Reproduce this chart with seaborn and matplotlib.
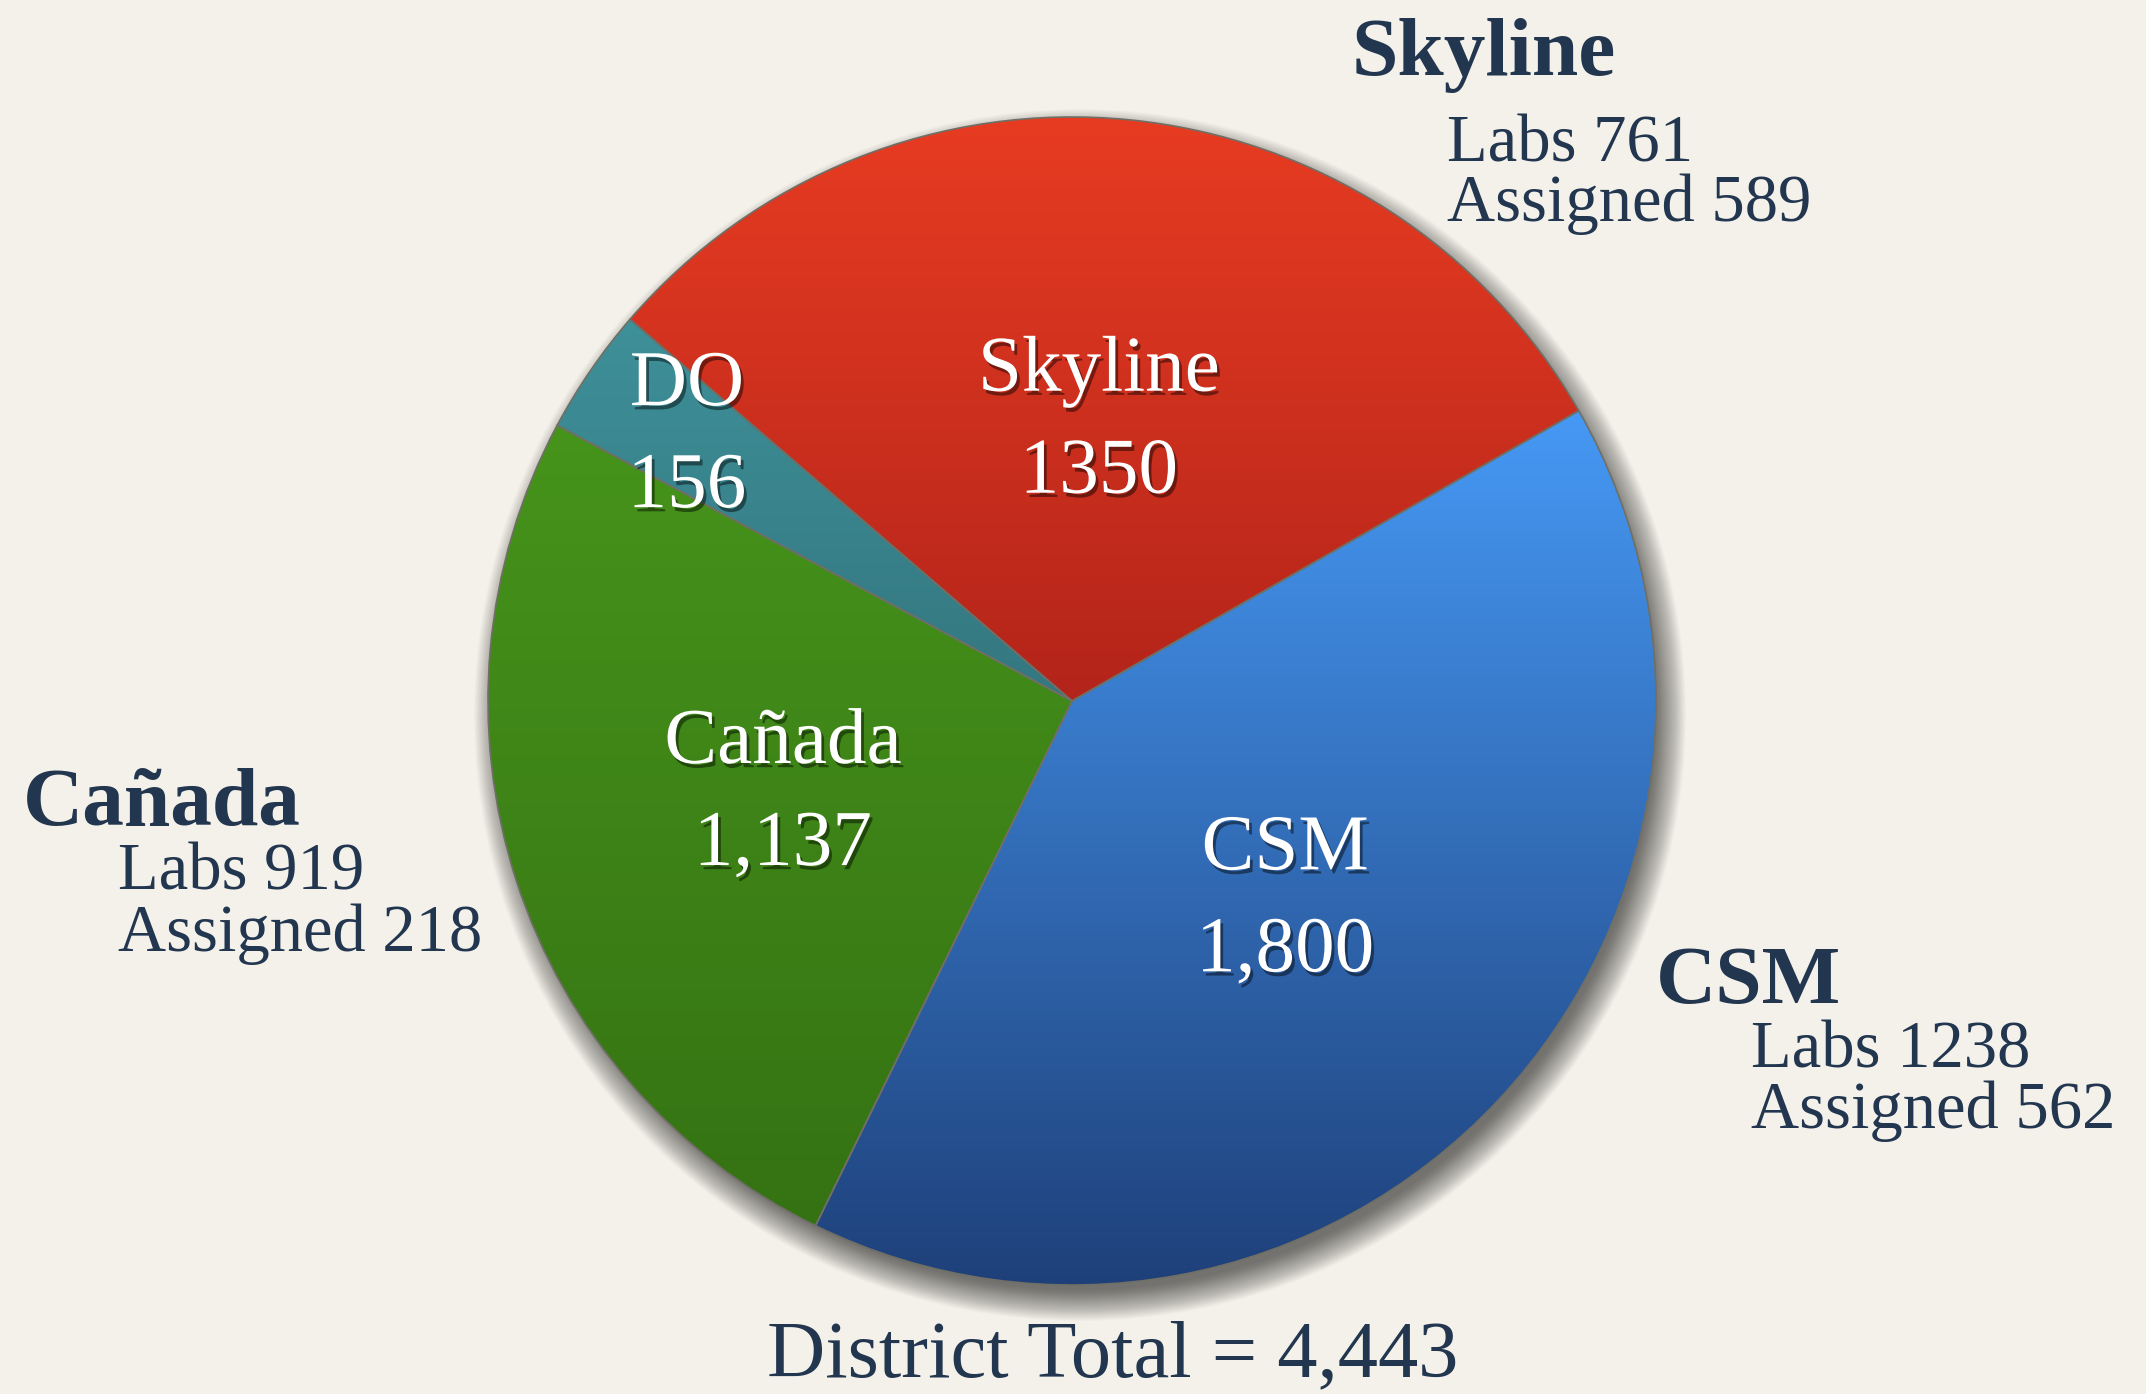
import numpy as np
import matplotlib
matplotlib.use("Agg")
import matplotlib.pyplot as plt
import matplotlib.patheffects as pe
from matplotlib.patches import Circle
from matplotlib.colors import to_rgb
import seaborn as sns

# data
campuses = ["Skyline", "DO", "Cañada", "CSM"]
totals = [1350, 156, 1137, 1800]
total_labels = ["1350", "156", "1,137", "1,800"]

lab_campuses = ["Skyline", "Cañada", "CSM"]
labs = [761, 919, 1238]
assigned = [589, 218, 562]

sns.set_theme(style="white")
plt.rcParams["font.family"] = ["Liberation Serif", "DejaVu Serif"]

W, H = 2146, 1394
bg = "#F4F1EA"
navy = "#22364F"
top_colors = sns.color_palette(["#E83C22", "#3E9099", "#46941B", "#4699F5"])
bottom_colors = sns.color_palette(["#B3241A", "#347780", "#357213", "#1E3F78"])

fig = plt.figure(figsize=(W / 100, H / 100), dpi=100, facecolor=bg)
ax = fig.add_axes([0, 0, 1, 1])
ax.set_facecolor(bg)

cx, cy, r = 1072, H - 701, 584

# soft drop shadow, down and to the right
for k in range(40):
    ax.add_patch(Circle((cx + 8, cy - 14), r + 22 - k * 0.8, color="black",
                        alpha=0.014, lw=0, zorder=1))

wedges, _ = ax.pie(totals, colors=top_colors, startangle=29.8, counterclock=True,
                   center=(cx, cy), radius=r, frame=True,
                   wedgeprops=dict(edgecolor="#6f6f66", linewidth=1.2, zorder=2))
ax.set_xlim(0, W)
ax.set_ylim(0, H)
ax.set_aspect("equal")
ax.axis("off")

# vertical gradient inside each wedge
fig.canvas.draw()
for w, c_top, c_bot in zip(wedges, top_colors, bottom_colors):
    verts = w.get_path().vertices
    ys = verts[:, 1]
    y0, y1 = ys.min(), ys.max()
    t = np.linspace(0, 1, 256)[:, None]
    grad = (1 - t) * np.array(to_rgb(c_bot)) + t * np.array(to_rgb(c_top))
    img = ax.imshow(grad[:, None, :], extent=[cx - r, cx + r, y0, y1], origin="lower",
                    aspect="auto", zorder=2.5, interpolation="bicubic")
    img.set_clip_path(w)
    w.set_facecolor("none")
    w.set_zorder(3)

ax.set_xlim(0, W)
ax.set_ylim(0, H)

# labels inside wedges
label_dist = [0.48, 0.80, 0.52, 0.50]
shadow = [pe.SimplePatchShadow(offset=(2, -3), shadow_rgbFace="black", alpha=0.45),
          pe.Normal()]
for w, name, lab, d in zip(wedges, campuses, total_labels, label_dist):
    ang = np.deg2rad((w.theta1 + w.theta2) / 2)
    x = cx + d * r * np.cos(ang)
    y = cy + d * r * np.sin(ang)
    ax.text(x, y + 50, name, color="white", fontsize=57, ha="center", va="center",
            zorder=5, path_effects=shadow)
    ax.text(x, y - 52, lab, color="white", fontsize=57, ha="center", va="center",
            zorder=5, path_effects=shadow)

# outside annotations
head_pos = [(1352, 75), (23, 825), (1656, 1003)]
line_gaps = [(86, 146), (65, 126), (64, 125)]
for name, lb, asg, (hx, hy), (g1, g2) in zip(lab_campuses, labs, assigned, head_pos, line_gaps):
    ax.text(hx, H - hy, name, color=navy, fontsize=60, fontweight="bold", ha="left", va="baseline")
    ax.text(hx + 95, H - hy - g1, f"Labs {lb}", color=navy, fontsize=48, ha="left", va="baseline")
    ax.text(hx + 95, H - hy - g2, f"Assigned {asg}", color=navy, fontsize=48, ha="left", va="baseline")

ax.text(1113, H - 1376, f"District Total = {sum(totals):,}", color=navy, fontsize=58,
        ha="center", va="baseline")

fig.savefig("out.png", dpi=100, facecolor=bg)
